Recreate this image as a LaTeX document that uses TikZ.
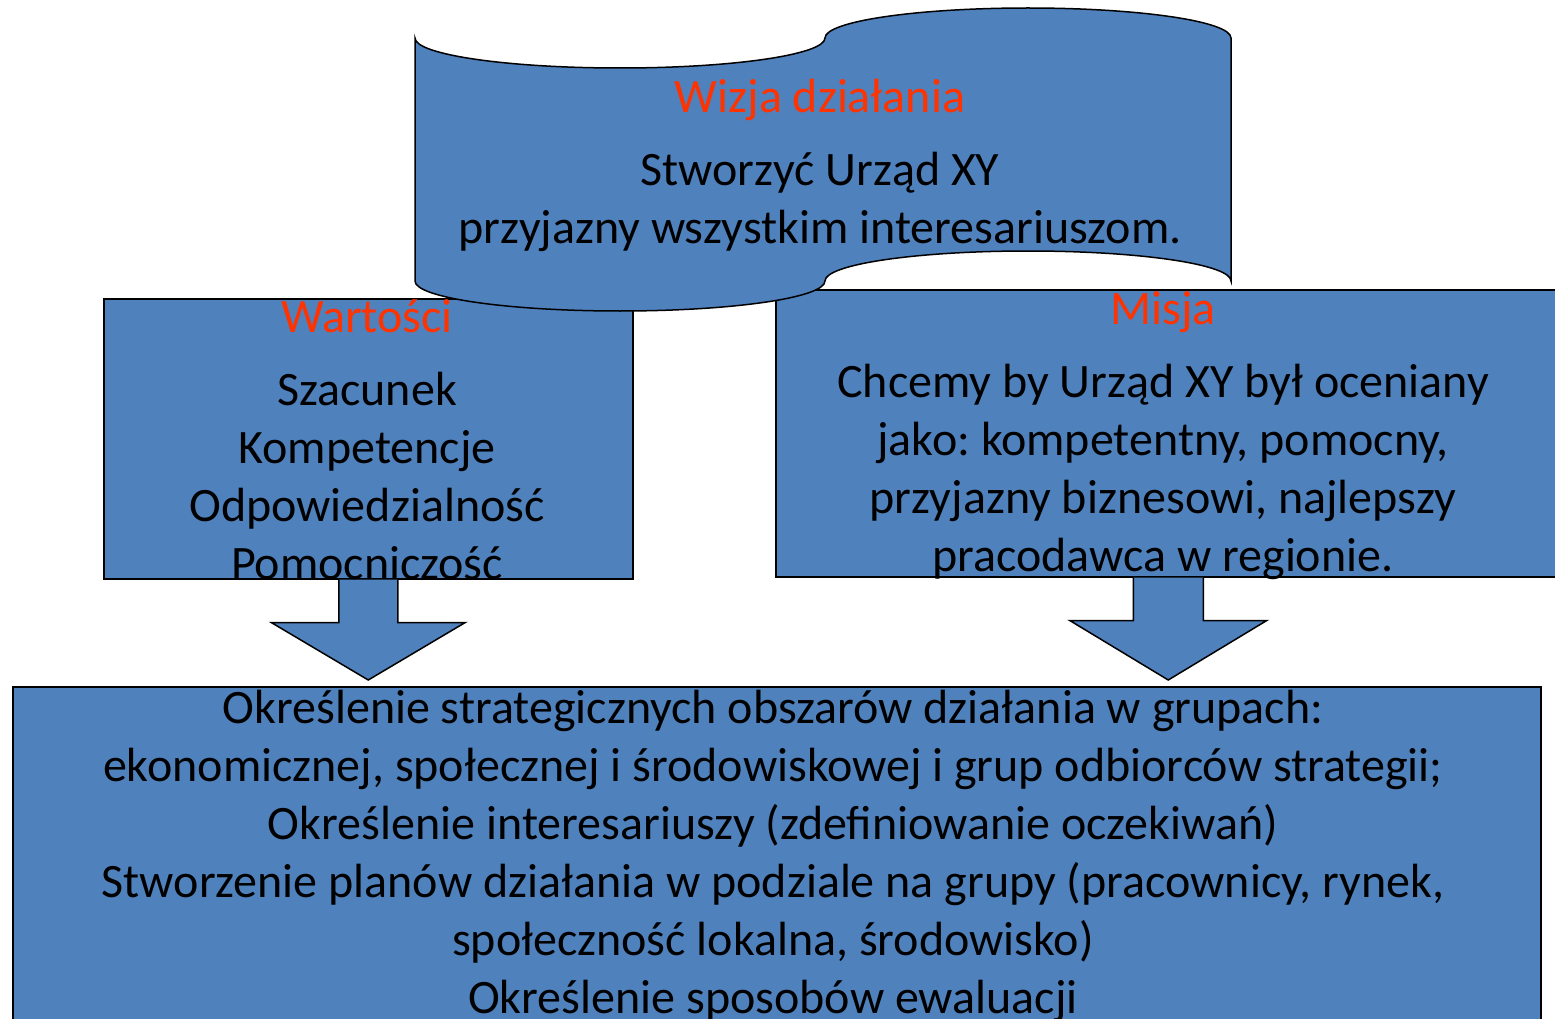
\documentclass[tikz,border=0pt]{standalone}
\usepackage{fontspec}
\setmainfont{Carlito}
\usepackage{tikz}
\usetikzlibrary{calc, positioning}
\frenchspacing

\definecolor{boxblue}{HTML}{4F81BD}
\definecolor{titlered}{HTML}{FF3300}

\newcommand{\panelFont}{\fontsize{48}{58}\selectfont\lineskiplimit=-100pt\relax}

\tikzset{
    panel/.style={draw=black, line width=1.5pt, fill=boxblue, inner sep=0pt},
    panelText/.style={align=center, font=\panelFont, inner sep=0pt},
    blockArrow/.style={draw=black, line width=1.5pt, fill=boxblue, line join=miter}
}

% Block arrow from one panel down to another
\newcommand{\downBlock}[4]{%
    \draw[blockArrow] ($(#1.south)+(-#3,0)$) -- ++(0,43) -- ($(#1.south)+(-#4,43)$)
        -- ($(#1.south |- #2.north)+(0,-6)$)
        -- ($(#1.south)+(#4,43)$) -- ($(#1.south)+(#3,43)$) -- ($(#1.south)+(#3,0)$);}

\begin{document}
\begin{tikzpicture}[x=1pt, y=-1pt]
    \useasboundingbox (0,0) rectangle (1555,1019);
    \clip (0,0) rectangle (1555,1019);

    % Panels (fill only, texts come later)
    \node[panel, anchor=north west, minimum width=529pt, minimum height=280pt] (values) at (103,298) {};
    \node[panel, anchor=north west, minimum width=785pt, minimum height=287pt] (mission) at (775,289) {};
    \node[panel, anchor=north west, minimum width=1528pt, minimum height=360pt] (goals) at (12,686) {};

    % Arrows down to the goals panel
    \downBlock{values}{goals}{29.5}{97}
    \downBlock{mission}{goals}{35}{98.5}

    % Vision scroll (punched tape)
    \draw[panel] (415,38) .. controls (415,54.6) and (506.8,68) .. (620,68)
        .. controls (733.2,68) and (825,54.6) .. (825,38)
        .. controls (825,21.4) and (915.9,8) .. (1028,8)
        .. controls (1140.1,8) and (1231,21.4) .. (1231,38)
        -- (1231,281)
        .. controls (1231,264.4) and (1140.1,251) .. (1028,251)
        .. controls (915.9,251) and (825,264.4) .. (825,281)
        .. controls (825,297.6) and (733.2,311) .. (620,311)
        .. controls (506.8,311) and (415,297.6) .. (415,281) -- cycle;

    % Texts
    \node[panelText] (visionText) at (820,165)
        {\textcolor{titlered}{Wizja działania}\\[15pt]
         Stworzyć Urząd XY\\ przyjazny wszystkim interesariuszom.};
    \node[panelText] (valuesText) at (367,440)
        {\textcolor{titlered}{Wartości}\\[15pt]
         Szacunek\\ Kompetencje\\ Odpowiedzialność\\ Pomocniczość};
    \node[panelText] (missionText) at (1163,436)
        {\textcolor{titlered}{Misja}\\[15pt]
         Chcemy by Urząd XY był oceniany\\ jako: kompetentny, pomocny,\\
         przyjazny biznesowi, najlepszy\\ pracodawca w regionie.};
    \node[panelText] (goalsText) at (773,856)
        {Określenie strategicznych obszarów działania w grupach:\\
         ekonomicznej, społecznej i środowiskowej i grup odbiorców strategii;\\
         Określenie interesariuszy (zdefiniowanie oczekiwań)\\
         Stworzenie planów działania w podziale na grupy (pracownicy, rynek,\\
         społeczność lokalna, środowisko)\\
         Określenie sposobów ewaluacji};
\end{tikzpicture}
\end{document}
